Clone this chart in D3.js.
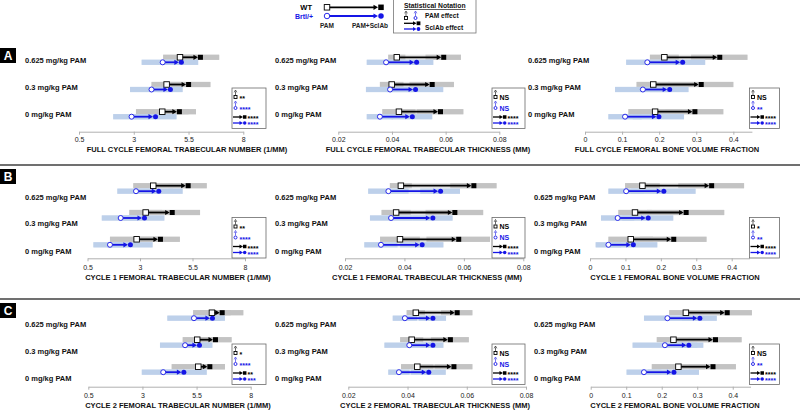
<!DOCTYPE html>
<html>
<head>
<meta charset="utf-8">
<script src="https://d3js.org/d3.v7.min.js"></script>
<style>
body { margin:0; background:#fff; }
text { font-family:"Liberation Sans", Arial, sans-serif; }
</style>
</head>
<body>
<svg id="chart" width="800" height="410"></svg>
<script>

// ---- data ----
var doses = ["0.625 mg/kg PAM", "0.3 mg/kg PAM", "0 mg/kg PAM"];
var panelLetters = ["A", "B", "C"];
var cycleNames = ["FULL CYCLE", "CYCLE 1", "CYCLE 2"];
var measureNames = ["FEMORAL TRABECULAR NUMBER (1/MM)", "FEMORAL TRABECULAR THICKNESS (MM)", "FEMORAL BONE VOLUME FRACTION"];
var tickValues = [[0.5, 3, 5.5, 8], [0.02, 0.04, 0.06, 0.08], [0, 0.1, 0.2, 0.3, 0.4]];
var tickLabels = [["0.5", "3", "5.5", "8"], ["0.02", "0.04", "0.06", "0.08"], ["0", "0.1", "0.2", "0.3", "0.4"]];
var domains = [[0.5, 8], [0.02, 0.08], [0, 0.45]];

// [panel][measure][dose]
var wtPamMean = [
  [[5.11, 4.50, 4.30], [0.0418, 0.0399, 0.0426], [0.214, 0.184, 0.189]],
  [[3.63, 3.27, 2.84], [0.0388, 0.0372, 0.0385], [0.148, 0.127, 0.115]],
  [[6.21, 5.53, 5.58], [0.0428, 0.0414, 0.0433], [0.268, 0.233, 0.247]]
];
var wtPamSd = [
  [[0.77, 0.69, 1.20], [0.0032, 0.0044, 0.0062], [0.039, 0.045, 0.072]],
  [[0.95, 0.78, 1.27], [0.0037, 0.0049, 0.0067], [0.049, 0.047, 0.063]],
  [[0.87, 0.67, 1.23], [0.0031, 0.0039, 0.0055], [0.047, 0.047, 0.075]]
];
var wtSclMean = [
  [[6.02, 5.48, 5.06], [0.0591, 0.0548, 0.0579], [0.362, 0.312, 0.295]],
  [[5.27, 4.51, 3.95], [0.0632, 0.0568, 0.0581], [0.342, 0.270, 0.235]],
  [[6.66, 6.35, 6.09], [0.0566, 0.0543, 0.0555], [0.383, 0.350, 0.343]]
];
var wtSclSd = [
  [[0.88, 1.02, 0.78], [0.0066, 0.0083, 0.0087], [0.076, 0.088, 0.078]],
  [[0.91, 1.35, 0.95], [0.0078, 0.0097, 0.0107], [0.093, 0.109, 0.094]],
  [[1.00, 0.77, 0.72], [0.0053, 0.0064, 0.0064], [0.071, 0.075, 0.066]]
];
var brPamMean = [
  [[4.32, 3.81, 2.90], [0.0378, 0.0393, 0.0355], [0.168, 0.156, 0.108]],
  [[2.81, 2.08, 1.57], [0.0346, 0.0355, 0.0321], [0.102, 0.078, 0.052]],
  [[5.38, 4.97, 3.96], [0.0391, 0.0406, 0.0371], [0.216, 0.209, 0.150]]
];
var brPamSd = [
  [[0.96, 0.98, 0.84], [0.0072, 0.0090, 0.0049], [0.057, 0.075, 0.045]],
  [[0.89, 0.90, 0.79], [0.0068, 0.0071, 0.0056], [0.050, 0.047, 0.036]],
  [[1.23, 1.16, 0.99], [0.0041, 0.0084, 0.0036], [0.066, 0.091, 0.049]]
];
var brSclMean = [
  [[5.15, 4.65, 3.97], [0.0490, 0.0486, 0.0474], [0.262, 0.227, 0.198]],
  [[3.87, 3.19, 2.52], [0.0520, 0.0494, 0.0458], [0.207, 0.163, 0.121]],
  [[6.21, 5.61, 4.89], [0.0484, 0.0484, 0.0470], [0.306, 0.275, 0.233]]
];
var brSclSd = [
  [[0.79, 0.58, 0.98], [0.0064, 0.0105, 0.0076], [0.062, 0.052, 0.069]],
  [[1.16, 0.97, 1.08], [0.0067, 0.0068, 0.0073], [0.091, 0.072, 0.069]],
  [[0.60, 0.62, 1.08], [0.0046, 0.0037, 0.0059], [0.049, 0.042, 0.072]]
];
// stats box: WT PAM effect, Brtl PAM effect, WT SclAb effect, Brtl SclAb effect
var stats = [
  [["**", "****", "****", "****"], ["NS", "NS", "****", "****"], ["NS", "**", "****", "****"]],
  [["**", "****", "****", "****"], ["NS", "NS", "****", "****"], ["*", "**", "****", "****"]],
  [["*", "****", "**", "***"], ["NS", "NS", "****", "****"], ["NS", "**", "****", "****"]]
];

// ---- layout ----
var layout = [
  {letterY: 48, rowY: [57.3, 111.7], brOff: 5, labY: [60, 87, 114], axisY: 131.7, tickMid: 140, titleY: 151.7, boxY: 88,
   xr: [[79, 243.3], [338.3, 499.3], [585, 751.9]], titleX: [187, 428, 667], labX: [25, 275, 528]},
  {letterY: 169, rowY: [185.7, 239.3], brOff: 5.5, labY: [197, 223, 251], axisY: 258.3, tickMid: 267.3, titleY: 279.7, boxY: 217.5,
   xr: [[87.5, 245], [345, 523.3], [590, 749.4]], titleX: [178, 427, 675], labX: [25, 275, 534]},
  {letterY: 303, rowY: [312.7, 366.7], brOff: 5.5, labY: [324, 351, 378], axisY: 386.7, tickMid: 396, titleY: 407.7, boxY: 344,
   xr: [[88.3, 250.7], [348.3, 526], [590.7, 750.5]], titleX: [178, 435, 675], labX: [25, 275, 534]}
];
var boxX = [232, 492, 749.5];
var boxW = [34, 33, 30];

var BLUE = "#1515e6";
var wtCol = {dark: "#c3c3c3", light: "#e3e3e3", line: "#000"};
var brCol = {dark: "#bdd0ea", light: "#dde7f4", line: BLUE};

var svg = d3.select("#chart");

function arrowHead(g, tipX, y, col, len, half) {
  g.append("path")
    .attr("d", "M" + (tipX - len) + "," + (y - half) + "L" + tipX + "," + y + "L" + (tipX - len) + "," + (y + half) + "Z")
    .attr("fill", col);
}

function startMarker(g, cx, cy, isWT, s) {
  if (isWT) {
    g.append("rect").attr("x", cx - s / 2).attr("y", cy - s / 2).attr("width", s).attr("height", s)
      .attr("fill", "#fff").attr("stroke", "#000").attr("stroke-width", 0.9);
  } else {
    g.append("circle").attr("cx", cx).attr("cy", cy).attr("r", s / 2)
      .attr("fill", "#fff").attr("stroke", BLUE).attr("stroke-width", 0.9);
  }
}
function endMarker(g, cx, cy, isWT, s) {
  if (isWT) {
    g.append("rect").attr("x", cx - s / 2).attr("y", cy - s / 2).attr("width", s).attr("height", s).attr("fill", "#000");
  } else {
    g.append("circle").attr("cx", cx).attr("cy", cy).attr("r", s / 2).attr("fill", BLUE);
  }
}

function drawBars(g, x, y, pm, ps, sm, ss, col) {
  g.append("rect").attr("x", x(pm - ps)).attr("y", y - 2.6).attr("width", x(sm + ss) - x(pm - ps)).attr("height", 5.2)
    .attr("fill", col.light);
  g.append("rect").attr("x", x(pm - ps)).attr("y", y - 2.6).attr("width", x(pm + ps) - x(pm - ps)).attr("height", 5.2)
    .attr("fill", col.dark);
  g.append("rect").attr("x", x(sm - ss)).attr("y", y - 2.6).attr("width", x(sm + ss) - x(sm - ss)).attr("height", 5.2)
    .attr("fill", col.dark);
}
function drawArrow(g, x, y, pm, sm, isWT) {
  var col = isWT ? "#000" : BLUE;
  var x0 = x(pm), x1 = x(sm);
  g.append("line").attr("x1", x0).attr("x2", x1 - 4).attr("y1", y).attr("y2", y)
    .attr("stroke", col).attr("stroke-width", 1.8);
  arrowHead(g, x1 - 2, y, col, 4.5, 2.6);
  endMarker(g, x1 + 0.5, y, isWT, 5);
  startMarker(g, x0, y, isWT, isWT ? 5.5 : 5);
}

// panels
layout.forEach(function(L, p) {
  // panel letter
  svg.append("rect").attr("x", 0).attr("y", L.letterY).attr("width", 16).attr("height", 15).attr("fill", "#000");
  svg.append("text").attr("x", 8).attr("y", L.letterY + 11.5).attr("text-anchor", "middle")
    .attr("fill", "#fff").attr("font-weight", "bold").attr("font-size", 12).text(panelLetters[p]);

  for (var m = 0; m < 3; m++) {
    var g = svg.append("g");
    var x = d3.scaleLinear().domain(domains[m]).range(L.xr[m]);
    var y = d3.scalePoint().domain(doses).range(L.rowY);

    // dose labels
    doses.forEach(function(d, i) {
      g.append("text").attr("x", L.labX[m]).attr("y", L.labY[i] + 2.7)
        .attr("font-size", 7.5).attr("font-weight", "bold").attr("fill", "#111").text(d);
    });

    // bars
    doses.forEach(function(d, i) {
      drawBars(g, x, y(d), wtPamMean[p][m][i], wtPamSd[p][m][i], wtSclMean[p][m][i], wtSclSd[p][m][i], wtCol);
      drawBars(g, x, y(d) + L.brOff, brPamMean[p][m][i], brPamSd[p][m][i], brSclMean[p][m][i], brSclSd[p][m][i], brCol);
    });
    doses.forEach(function(d, i) {
      drawArrow(g, x, y(d), wtPamMean[p][m][i], wtSclMean[p][m][i], true);
      drawArrow(g, x, y(d) + L.brOff, brPamMean[p][m][i], brSclMean[p][m][i], false);
    });

    // axis
    var ax = g.append("g").attr("transform", "translate(0," + L.axisY + ")")
      .call(d3.axisBottom(x).tickValues(tickValues[m]).tickFormat(function(v, i) { return tickLabels[m][i]; })
        .tickSize(3).tickSizeOuter(0).tickPadding(L.tickMid - L.axisY - 5.5));
    ax.select(".domain").attr("stroke", "#b0b0b0");
    ax.selectAll(".tick line").attr("stroke", "#b0b0b0");
    ax.selectAll(".tick text").attr("font-size", 7).attr("fill", "#222")
      .attr("font-family", "Liberation Sans, Arial, sans-serif");

    // axis title
    g.append("text").attr("x", L.titleX[m]).attr("y", L.titleY).attr("text-anchor", "middle")
      .attr("font-size", 7.5).attr("font-weight", "bold").attr("fill", "#111")
      .text(cycleNames[p] + " " + measureNames[m]);

    // stats box
    var bx = boxX[m], by = L.boxY, s = stats[p][m];
    var b = g.append("g");
    b.append("rect").attr("x", bx).attr("y", by).attr("width", boxW[m]).attr("height", 40.5)
      .attr("fill", "#fff").attr("stroke", "#6a6a6a").attr("stroke-width", 0.8);
    [[true, 2], [false, 13]].forEach(function(r, k) {
      var col = r[0] ? "#000" : BLUE;
      var top = by + r[1];
      b.append("line").attr("x1", bx + 3.5).attr("x2", bx + 3.5).attr("y1", top + 1.5).attr("y2", top + 5)
        .attr("stroke", col).attr("stroke-width", 0.6);
      b.append("path").attr("d", "M" + (bx + 2.2) + "," + (top + 2.3) + "L" + (bx + 3.5) + "," + top + "L" + (bx + 4.8) + "," + (top + 2.3))
        .attr("fill", "none").attr("stroke", col).attr("stroke-width", 0.6);
      startMarker(b, bx + 3.5, top + 7, r[0], 3);
      var t = s[k];
      b.append("text").attr("x", bx + 7.5).attr("y", top + 7 + (t === "NS" ? 2.6 : 4.2))
        .attr("font-size", 7).attr("font-weight", "bold").attr("fill", col).text(t);
    });
    [[true, 29], [false, 35]].forEach(function(r, k) {
      var col = r[0] ? "#000" : BLUE;
      var yy = by + r[1];
      b.append("line").attr("x1", bx + 1).attr("x2", bx + 9).attr("y1", yy).attr("y2", yy)
        .attr("stroke", col).attr("stroke-width", 1.3);
      arrowHead(b, bx + 11, yy, col, 3.5, 2);
      endMarker(b, bx + 12.7, yy, r[0], 3.5);
      var t = s[k + 2];
      b.append("text").attr("x", bx + 15.5).attr("y", yy + (t === "NS" ? 2.6 : 4.2))
        .attr("font-size", 7).attr("font-weight", "bold").attr("fill", col).text(t);
    });
  }
});

// separators
[165, 299].forEach(function(yy) {
  svg.append("line").attr("x1", 0).attr("x2", 800).attr("y1", yy).attr("y2", yy)
    .attr("stroke", "#707070").attr("stroke-width", 2);
});

// ---- top legend ----
var lg = svg.append("g");
lg.append("text").attr("x", 312).attr("y", 10).attr("text-anchor", "end").attr("font-size", 7.5)
  .attr("font-weight", "bold").attr("fill", "#000").text("WT");
lg.append("text").attr("x", 313).attr("y", 19).attr("text-anchor", "end").attr("font-size", 7)
  .attr("font-weight", "bold").attr("fill", BLUE).text("Brtl/+");
[[true, 7.3], [false, 16]].forEach(function(r) {
  var col = r[0] ? "#000" : BLUE;
  lg.append("line").attr("x1", 329).attr("x2", 375).attr("y1", r[1]).attr("y2", r[1])
    .attr("stroke", col).attr("stroke-width", 1.8);
  arrowHead(lg, 378, r[1], col, 4.5, 2.6);
  endMarker(lg, 381, r[1], r[0], 5.5);
  startMarker(lg, 327, r[1], r[0], 5.5);
});
lg.append("text").attr("x", 327).attr("y", 28).attr("text-anchor", "middle").attr("font-size", 6.5)
  .attr("font-weight", "bold").attr("fill", "#222").text("PAM");
lg.append("text").attr("x", 370).attr("y", 28).attr("text-anchor", "middle").attr("font-size", 6.5)
  .attr("font-weight", "bold").attr("fill", "#222").text("PAM+SclAb");

var sb = svg.append("g");
sb.append("rect").attr("x", 393.5).attr("y", -1).attr("width", 82.5).attr("height", 34)
  .attr("fill", "#fff").attr("stroke", "#777").attr("stroke-width", 0.8);
sb.append("text").attr("x", 404).attr("y", 8.3).attr("font-size", 6.8).attr("font-weight", "bold")
  .attr("text-decoration", "underline").attr("fill", "#111").text("Statistical Notation");
[[true, 406], [false, 415.5]].forEach(function(r) {
  var col = r[0] ? "#000" : BLUE;
  sb.append("line").attr("x1", r[1]).attr("x2", r[1]).attr("y1", 12.5).attr("y2", 16).attr("stroke", col).attr("stroke-width", 0.6);
  sb.append("path").attr("d", "M" + (r[1] - 1.3) + ",13.3L" + r[1] + ",11L" + (r[1] + 1.3) + ",13.3")
    .attr("fill", "none").attr("stroke", col).attr("stroke-width", 0.6);
  startMarker(sb, r[1], 18, r[0], 3);
});
sb.append("text").attr("x", 425).attr("y", 18.2).attr("font-size", 6.6).attr("font-weight", "bold")
  .attr("fill", "#111").text("PAM effect");
[[true, 23.3], [false, 29]].forEach(function(r) {
  var col = r[0] ? "#000" : BLUE;
  sb.append("line").attr("x1", 404).attr("x2", 414).attr("y1", r[1]).attr("y2", r[1]).attr("stroke", col).attr("stroke-width", 1.3);
  arrowHead(sb, 416.5, r[1], col, 3.5, 2);
  endMarker(sb, 418.5, r[1], r[0], 3.8);
});
sb.append("text").attr("x", 425).attr("y", 29.6).attr("font-size", 6.6).attr("font-weight", "bold")
  .attr("fill", "#111").text("SclAb effect");

</script>
</body>
</html>
